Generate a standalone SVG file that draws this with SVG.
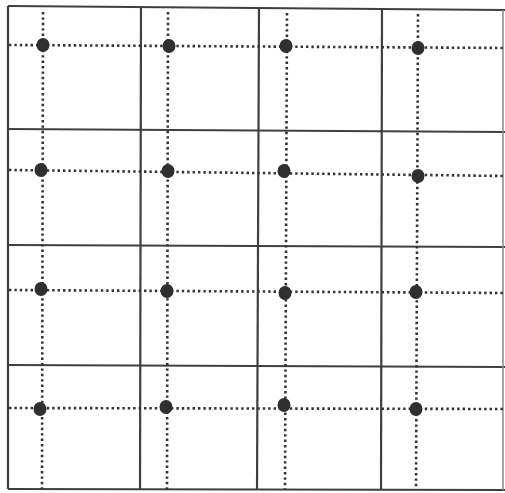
<svg xmlns="http://www.w3.org/2000/svg" width="505" height="493" viewBox="0 0 505 493">
<style>
.solid{stroke:#3f3f3f;stroke-width:2.2;fill:none}
.dot{stroke:#333;stroke-width:2.6;stroke-dasharray:2.4 3;fill:none}
.pt{fill:#2f2f2f}
</style>
<rect width="505" height="493" fill="#fff"/>
<g id="grid">
<line class="solid" x1="8" y1="6" x2="505" y2="10"/>
<line class="solid" x1="8" y1="129" x2="505" y2="132"/>
<line class="solid" x1="8" y1="245" x2="505" y2="247"/>
<line class="solid" x1="8" y1="365" x2="505" y2="367"/>
<line class="solid" x1="8" y1="489" x2="505" y2="490"/>
<line class="solid" x1="8" y1="6" x2="8" y2="489"/>
<line class="solid" x1="141" y1="7" x2="140" y2="489"/>
<line class="solid" x1="259" y1="8" x2="257" y2="490"/>
<line class="solid" x1="382" y1="9" x2="381" y2="490"/>
<line class="solid" x1="503" y1="10" x2="503" y2="490" style="stroke:#888;stroke-width:1.5"/>
</g>
<g id="connectors">
<line class="dot" x1="9" y1="45" x2="505" y2="48"/>
<line class="dot" x1="9" y1="170" x2="505" y2="176"/>
<line class="dot" x1="9" y1="290" x2="505" y2="293"/>
<line class="dot" x1="9" y1="408" x2="505" y2="409"/>
<line class="dot" x1="43" y1="12" x2="42" y2="489"/>
<line class="dot" x1="168" y1="12" x2="167" y2="489"/>
<line class="dot" x1="287" y1="13" x2="285" y2="490"/>
<line class="dot" x1="418" y1="14" x2="416" y2="490"/>
</g>
<g id="nodes">
<ellipse id="n11" class="pt" cx="43" cy="45" rx="6.5" ry="7"/>
<ellipse id="n12" class="pt" cx="169" cy="46" rx="6.5" ry="7"/>
<ellipse id="n13" class="pt" cx="286" cy="46" rx="6.5" ry="7"/>
<ellipse id="n14" class="pt" cx="418" cy="48" rx="6.5" ry="7"/>
<ellipse id="n21" class="pt" cx="41" cy="170" rx="6.5" ry="7"/>
<ellipse id="n22" class="pt" cx="168" cy="171" rx="6.5" ry="7"/>
<ellipse id="n23" class="pt" cx="284" cy="171" rx="6.5" ry="7"/>
<ellipse id="n24" class="pt" cx="418" cy="176" rx="6.5" ry="7"/>
<ellipse id="n31" class="pt" cx="41" cy="289" rx="6.5" ry="7"/>
<ellipse id="n32" class="pt" cx="167" cy="291" rx="6.5" ry="7"/>
<ellipse id="n33" class="pt" cx="285" cy="293" rx="6.5" ry="7"/>
<ellipse id="n34" class="pt" cx="416" cy="292" rx="6.5" ry="7"/>
<ellipse id="n41" class="pt" cx="40" cy="409" rx="6.5" ry="7"/>
<ellipse id="n42" class="pt" cx="166" cy="407" rx="6.5" ry="7"/>
<ellipse id="n43" class="pt" cx="284" cy="405" rx="6.5" ry="7"/>
<ellipse id="n44" class="pt" cx="416" cy="409" rx="6.5" ry="7"/>
</g>
</svg>
